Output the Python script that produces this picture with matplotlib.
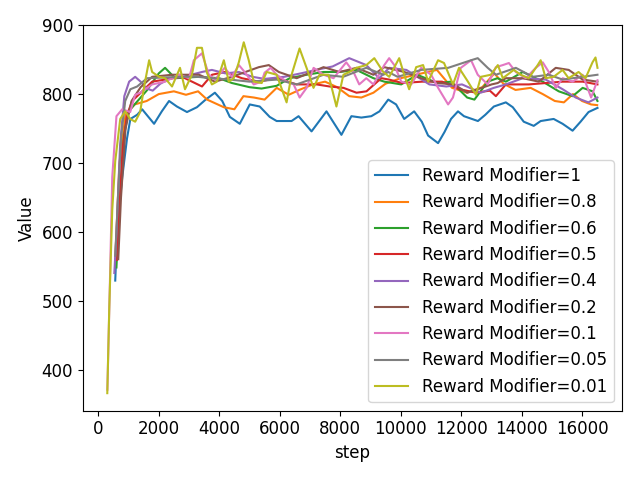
import matplotlib
matplotlib.use("Agg")
import matplotlib.pyplot as plt

plt.rcParams['font.size'] = 12

# Reward Modifier=1
steps_1 = [560, 630, 790, 950, 1060, 1285, 1450, 1600, 1845, 2100, 2340, 2600, 2933, 3263, 3550, 3856,
           4100, 4350, 4680, 5010, 5339, 5668, 5899, 6393, 6624, 7053, 7547, 8041, 8371, 8700, 9030,
           9300, 9590, 9850, 10117, 10447, 10700, 10908, 11238, 11450, 11666, 11897, 12095, 12556,
           12800, 13083, 13479, 13709, 14072, 14402, 14632, 15061, 15357, 15687, 15951, 16215, 16511]
vals_1 = [530, 608, 679, 736, 764, 770, 778, 770, 757, 775, 790, 782, 774, 781, 792, 802,
          790, 767, 757, 785, 782, 767, 761, 761, 768, 746, 775, 741, 768, 766, 768,
          775, 792, 785, 764, 775, 760, 740, 729, 745, 764, 775, 768, 761,
          770, 782, 788, 781, 760, 754, 761, 764, 757, 747, 760, 774, 780]

# Reward Modifier=0.8
steps_08 = [560, 700, 900, 1200, 1600, 2000, 2500, 2900, 3300, 3600, 4150, 4500, 4800, 5150, 5500,
            5900, 6300, 6700, 7100, 7500, 7900, 8300, 8700, 9100, 9500, 10000, 10500, 11200, 11700,
            12200, 12700, 13100, 13400, 13800, 14300, 14700, 15100, 15400, 15700, 16000, 16300, 16500]
vals_08 = [560, 700, 770, 785, 790, 800, 804, 799, 804, 792, 781, 778, 797, 795, 792,
           809, 799, 807, 814, 818, 810, 797, 795, 802, 815, 823, 828, 835, 809,
           802, 810, 830, 815, 806, 809, 800, 790, 788, 800, 790, 785, 784]

# Reward Modifier=0.6
steps_06 = [600, 700, 850, 1000, 1300, 1600, 2000, 2208, 2540, 3330, 3990, 4420, 5000, 5400, 5900,
            6330, 6890, 7450, 7980, 8540, 9100, 9460, 10020, 10550, 11210, 11670, 12200, 12440, 12880,
            13200, 13480, 14040, 14700, 15230, 15690, 16020, 16350, 16510]
vals_06 = [549, 640, 740, 775, 790, 805, 830, 838, 823, 825, 823, 816, 810, 808, 812,
           823, 828, 832, 832, 835, 823, 818, 814, 828, 816, 818, 795, 792, 818,
           823, 818, 832, 818, 804, 797, 809, 804, 790]

# Reward Modifier=0.5
steps_05 = [620, 700, 800, 950, 1120, 1780, 2770, 3430, 3760, 4190, 4750, 5310, 5900, 6560, 7220,
            7650, 8110, 8540, 8870, 9360, 9620, 10050, 10710, 11370, 11960, 12490, 12950, 13150, 13480,
            14240, 14800, 15360, 16020, 16510]
vals_05 = [560, 640, 720, 770, 790, 818, 825, 811, 828, 832, 823, 818, 823, 814, 814,
           811, 809, 802, 804, 823, 821, 816, 818, 818, 807, 802, 805, 797, 814,
           814, 816, 818, 818, 814]

# Reward Modifier=0.4
steps_04 = [530, 600, 720, 860, 1020, 1219, 1400, 1600, 1800, 2050, 2400, 2800, 3427, 3757, 4200,
            4650, 5100, 5500, 6150, 6700, 7200, 7750, 8300, 8865, 9290, 9620, 10190, 10950, 11510,
            12030, 12650, 13080, 13480, 14040, 14800, 15360, 15790, 16210, 16510]
vals_04 = [541, 598, 726, 797, 818, 825, 818, 808, 805, 815, 823, 825, 832, 835, 830,
           832, 825, 822, 825, 830, 835, 840, 852, 842, 823, 838, 835, 814, 811,
           814, 802, 809, 814, 823, 821, 807, 795, 788, 795]

# Reward Modifier=0.2
steps_02 = [660, 750, 900, 1100, 1400, 1780, 2440, 3330, 3860, 4420, 5310, 5640, 5970, 6560, 7450,
            7980, 8540, 9100, 9460, 10120, 10680, 11210, 11770, 12200, 12550, 13010, 13210, 13480,
            14040, 14570, 15130, 15560, 16020, 16510]
vals_02 = [561, 650, 750, 790, 810, 825, 828, 828, 818, 825, 839, 842, 832, 823, 839,
           832, 838, 828, 839, 832, 823, 816, 814, 802, 807, 814, 816, 823,
           823, 818, 838, 835, 821, 818]

# Reward Modifier=0.1
steps_01 = [300, 380, 461, 600, 790, 1055, 1219, 1384, 1780, 2208, 2670, 3000, 3160, 3427, 3658,
            3856, 4180, 4420, 4650, 4840, 5140, 5400, 5500, 5700, 5900, 6230, 6460, 6660, 6890, 7120,
            7450, 7780, 8200, 8440, 8630, 8865, 9100, 9460, 9620, 9790, 10020, 10350, 10680, 11010,
            11240, 11570, 11730, 11990, 12330, 12550, 12880, 13150, 13380, 13580, 13810, 14140, 14470,
            14700, 14900, 15130, 15360, 15690, 16020, 16300, 16510]
vals_01 = [372, 520, 680, 768, 778, 774, 799, 802, 814, 818, 828, 823, 849, 859, 828,
           821, 838, 825, 842, 832, 814, 818, 831, 838, 828, 818, 814, 795, 809, 838,
           828, 823, 846, 832, 814, 823, 814, 842, 852, 842, 818, 814, 838, 828,
           809, 785, 795, 838, 849, 828, 814, 839, 842, 845, 832, 823, 838,
           846, 832, 809, 823, 818, 828, 795, 820]

# Reward Modifier=0.05
steps_005 = [560, 650, 760, 890, 1060, 1285, 1615, 2700, 3260, 4350, 5000, 5900, 6560, 7450, 8100,
             8860, 9430, 9590, 9900, 10680, 11570, 12330, 12550, 12880, 13150, 13810, 14370, 14900,
             15360, 16020, 16510]
vals_005 = [566, 650, 740, 790, 807, 811, 823, 825, 825, 821, 818, 821, 814, 828, 825,
            838, 828, 832, 825, 835, 838, 849, 852, 838, 828, 838, 825, 828,
            821, 825, 828]

# Reward Modifier=0.01
steps_001 = [297, 363, 461, 560, 725, 890, 1055, 1219, 1384, 1516, 1681, 1780, 2010, 2208, 2439,
             2702, 2867, 3098, 3263, 3427, 3592, 3757, 3922, 4152, 4317, 4482, 4647, 4811, 4976,
             5141, 5405, 5569, 5899, 6228, 6393, 6657, 6888, 7118, 7316, 7613, 7876, 8107, 8305,
             8535, 8865, 9129, 9425, 9623, 9952, 10117, 10282, 10513, 10743, 10908, 11238, 11435,
             11732, 11930, 12226, 12490, 12655, 12984, 13215, 13380, 13742, 13973, 14237, 14533,
             14632, 14797, 15061, 15357, 15555, 15885, 16115, 16346, 16445, 16511]
vals_001 = [367, 491, 632, 703, 764, 775, 764, 760, 774, 811, 849, 832, 825, 823, 811,
            838, 807, 828, 867, 867, 831, 814, 818, 849, 818, 823, 846, 875, 849,
            818, 816, 832, 828, 788, 828, 866, 838, 809, 828, 828, 782, 828, 832,
            838, 842, 852, 832, 825, 852, 828, 807, 839, 842, 818, 849, 845,
            814, 838, 818, 799, 825, 828, 842, 823, 835, 828, 823, 842,
            849, 823, 825, 835, 823, 832, 823, 846, 853, 838]

series = [
    ("1", steps_1, vals_1),
    ("0.8", steps_08, vals_08),
    ("0.6", steps_06, vals_06),
    ("0.5", steps_05, vals_05),
    ("0.4", steps_04, vals_04),
    ("0.2", steps_02, vals_02),
    ("0.1", steps_01, vals_01),
    ("0.05", steps_005, vals_005),
    ("0.01", steps_001, vals_001),
]

fig, ax = plt.subplots(figsize=(6.4, 4.8), dpi=100)
for mod, xs, ys in series:
    ax.plot(xs, ys, label=f"Reward Modifier={mod}", linewidth=1.5)

ax.set_xlabel("step")
ax.set_ylabel("Value")
ax.legend(loc="lower right")
fig.tight_layout()
fig.savefig("out.png")
